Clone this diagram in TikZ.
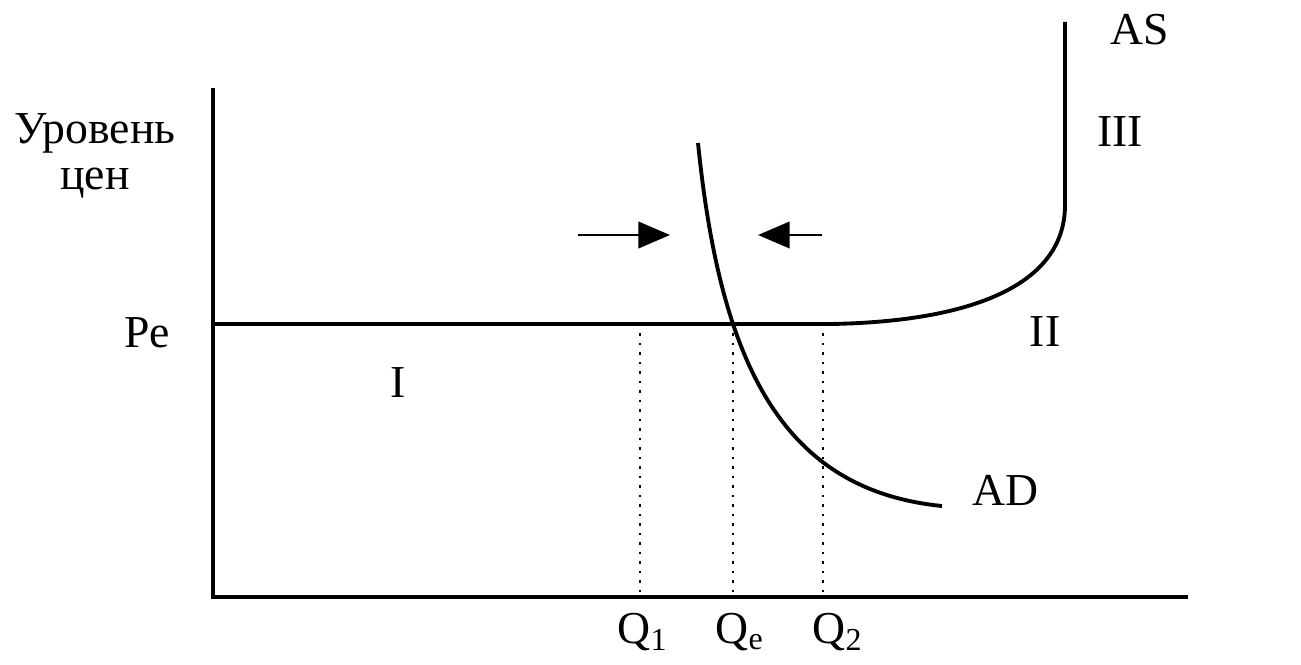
\documentclass[tikz,border=0pt]{standalone}
\usepackage{fontspec}
\setmainfont{Liberation Serif}
\usetikzlibrary{arrows.meta}

\begin{document}
\begin{tikzpicture}[x=0.01cm,y=-0.01cm,
    every node/.style={font=\fontsize{13}{15}\selectfont},
    axis/.style={line width=1pt},
    curve/.style={line width=1.1pt},
    guide/.style={dotted,line width=0.7pt},
    push/.style={line width=0.8pt,-{Triangle[length=9pt,width=7.5pt]}}]

    \useasboundingbox (0,0) rectangle (1301,664);

    % axes
    \coordinate (O) at (213,597);
    \coordinate (Ytop) at (213,88);
    \coordinate (Xend) at (1188,597);
    \draw[axis] (Ytop) -- (O) -- (Xend);

    % aggregate supply
    \coordinate (Pe) at (213,324);
    \coordinate (K) at (830,324);
    \coordinate (ASbend) at (1065,205);
    \coordinate (AStop) at (1065,22);
    \draw[curve] (Pe) -- (K)
        .. controls (960,322) and (1065,290) .. (ASbend) -- (AStop);

    % aggregate demand
    \coordinate (ADtop) at (698,143);
    \coordinate (E) at (733,324);
    \coordinate (ADend) at (942,506);
    \draw[curve] (ADtop) .. controls (720,360) and (780,490) .. (ADend);

    % output levels
    \coordinate (Q1) at (640,324);
    \coordinate (Q2) at (823,324);
    \coordinate (Q1b) at (640,597);
    \coordinate (Qeb) at (733,597);
    \coordinate (Q2b) at (823,597);
    \draw[guide] (Q1) -- (Q1b);
    \draw[guide] (E) -- (Qeb);
    \draw[guide] (Q2) -- (Q2b);

    % movement towards equilibrium
    \coordinate (La) at (578,235);
    \coordinate (Lb) at (670,235);
    \coordinate (Ra) at (822,235);
    \coordinate (Rb) at (758,235);
    \draw[push] (La) -- (Lb);
    \draw[push] (Ra) -- (Rb);

    % labels
    \node (ylab1) at (95,133) {Уровень};
    \node (ylab2) at (95,183) {цен};
    \node (pe) at (147,333) {Pe};
    \node (q1) at (643,632) {Q\textsubscript{1}};
    \node (qe) at (740,632) {Q\textsubscript{e}};
    \node (q2) at (838,632) {Q\textsubscript{2}};
    \node (as) at (1140,30) {AS};
    \node (adl) at (1005,490) {AD};
    \node (r1) at (398,383) {I};
    \node (r2) at (1045,332) {II};
    \node (r3) at (1120,132) {III};

\end{tikzpicture}
\end{document}
